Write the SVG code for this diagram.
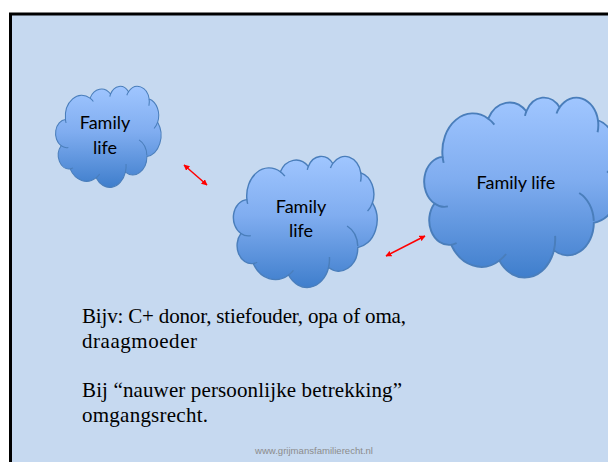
<svg xmlns="http://www.w3.org/2000/svg" width="608" height="462" viewBox="0 0 608 462">
  <defs>
    <linearGradient id="cloudFill" x1="0" y1="0" x2="0" y2="1">
      <stop offset="0" stop-color="#A0C6FF"/>
      <stop offset="0.45" stop-color="#80ADF0"/>
      <stop offset="1" stop-color="#3F7ECC"/>
    </linearGradient>
    <path id="cloudShape" d="M9.03,33.26 A15.63,21.27 0 0 1 32.42,12.04 A12.34,16.82 0 0 1 51.98,7.94 A10.10,13.76 0 0 1 69.06,5.74 A11.24,15.27 0 0 1 88.70,12.90 A12.34,16.84 0 0 1 96.81,35.78 A15.68,21.34 0 0 1 86.59,69.90 A13.39,18.21 0 0 1 66.11,85.20 A15.63,21.33 0 0 1 38.15,90.88 A17.87,24.41 0 0 1 13.44,82.10 A10.09,13.70 0 0 1 4.89,59.13 A10.06,13.76 0 0 1 9.03,33.26 Z"/>
    <path id="cloudInner" d="M11.73,60.80 A10.06,13.76 0 0 1 4.89,59.13 M16.20,81.10 A10.09,13.70 0 0 1 13.44,82.10 M41.58,87.23 A17.87,24.41 0 0 1 38.15,90.88 M66.72,77.16 A15.63,21.33 0 0 1 66.11,85.20 M79.07,53.39 A13.39,18.21 0 0 1 86.57,68.81 M96.81,35.78 A12.34,16.84 0 0 1 93.39,42.05 M88.70,12.90 A11.24,15.27 0 0 1 88.50,19.56 M67.45,9.16 A11.24,15.27 0 0 1 69.06,5.74 M51.27,10.52 A10.10,13.76 0 0 1 51.98,7.94 M32.42,12.04 A15.63,21.27 0 0 1 35.57,15.36 M9.57,36.62 A15.63,21.27 0 0 1 9.03,33.26"/>
    <marker id="arrowHead" viewBox="0 0 10 10" refX="9" refY="5" markerWidth="4" markerHeight="4" markerUnits="strokeWidth" orient="auto-start-reverse">
      <path d="M0,0 L10,5 L0,10 Z" fill="#FF0000"/>
    </marker>
  </defs>
  <style>
    .cloud { fill: url(#cloudFill); stroke: #4A7EBB; stroke-width: 1; vector-effect: non-scaling-stroke; }
    .inner { fill: none; stroke: #4A7EBB; stroke-width: 1; vector-effect: non-scaling-stroke; }
    .label { font-family: Lato, "Liberation Sans", sans-serif; font-size: 18px; fill: #000000; text-anchor: middle; }
    .body { font-family: "Liberation Serif", serif; font-size: 21px; fill: #000000; }
    .footer { font-family: "Liberation Sans", sans-serif; font-size: 9.5px; fill: #8C8C8C; text-anchor: middle; }
    .conn { stroke: #FF0000; stroke-width: 1.5; fill: none; marker-start: url(#arrowHead); marker-end: url(#arrowHead); }
  </style>

  <rect x="0" y="0" width="608" height="462" fill="#FFFFFF"/>
  <rect id="slide" x="10.5" y="14" width="610" height="460" fill="#C6D9F0" stroke="#000000" stroke-width="3"/>

  <g id="cloud1">
    <g transform="translate(56,86) scale(1.05,1.01)">
      <use href="#cloudShape" class="cloud"/>
      <use href="#cloudInner" class="inner"/>
    </g>
    <text class="label" x="105" y="129">Family</text>
    <text class="label" x="105" y="154">life</text>
  </g>

  <g id="cloud2">
    <g transform="translate(234,156) scale(1.43,1.31)">
      <use href="#cloudShape" class="cloud"/>
      <use href="#cloudInner" class="inner"/>
    </g>
    <text class="label" x="301" y="213">Family</text>
    <text class="label" x="301" y="237">life</text>
  </g>

  <g id="cloud3">
    <g transform="translate(425,97) scale(1.95,1.80)">
      <use href="#cloudShape" class="cloud"/>
      <use href="#cloudInner" class="inner"/>
    </g>
    <text class="label" x="516" y="189">Family life</text>
  </g>

  <g id="connectors">
    <line class="conn" x1="184" y1="165" x2="207" y2="185"/>
    <line class="conn" x1="386" y1="256" x2="425" y2="236"/>
  </g>

  <g id="bodyText">
    <text class="body" x="82" y="323" textLength="324" lengthAdjust="spacing">Bijv: C+ donor, stiefouder, opa of oma,</text>
    <text class="body" x="82" y="348" textLength="115" lengthAdjust="spacing">draagmoeder</text>
    <text class="body" x="82" y="397" textLength="320" lengthAdjust="spacing">Bij “nauwer persoonlijke betrekking”</text>
    <text class="body" x="82" y="422" textLength="126" lengthAdjust="spacing">omgangsrecht.</text>
  </g>

  <text class="footer" x="314" y="454" textLength="118" lengthAdjust="spacingAndGlyphs">www.grijmansfamilierecht.nl</text>
</svg>
